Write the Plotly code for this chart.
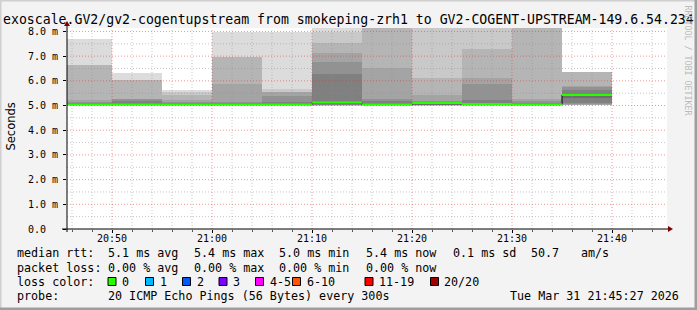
import plotly.graph_objects as go
from datetime import datetime, timedelta

# ---------------- data ----------------
DAY = "2026-03-31"
bar_start = ["20:45", "20:50", "20:55", "21:00", "21:05", "21:10",
             "21:15", "21:20", "21:25", "21:30", "21:35"]
median_ms = [5.05, 5.05, 5.05, 5.05, 5.05, 5.12, 5.05, 5.10, 5.06, 5.05, 5.43]

# nested smoke layers (outer -> inner), upper bounds in ms
smoke_hi_1 = [7.70, 6.31, 5.61, 7.96, 7.99, 8.60, 8.80, 8.80, 8.80, 8.90, 6.34]
smoke_hi_2 = [6.65, 6.03, 5.53, 6.95, 5.68, 7.96, 8.70, 8.70, 8.70, 8.80, 6.34]
smoke_hi_3 = [6.64, 6.03, 5.43, 6.95, 5.54, 7.55, 8.60, 6.11, 7.30, 8.70, 6.34]
smoke_hi_4 = [5.23, 5.26, 5.23, 5.89, 5.54, 7.12, 6.51, 5.41, 6.11, 5.27, 5.80]
smoke_hi_5 = [5.15, 5.25, 5.14, 5.16, 5.40, 6.78, 5.26, 5.18, 5.89, 5.18, 5.75]
smoke_hi_6 = [5.11, 5.18, 5.11, 5.11, 5.14, 6.28, 5.18, 5.14, 5.22, 5.12, 5.61]
smoke_hi_7 = [5.09, 5.10, 5.08, 5.09, 5.10, 5.15, 5.10, 5.12, 5.12, 5.09, 5.47]
# lower bounds in ms
smoke_lo_1 = [5.00, 5.00, 5.00, 5.00, 5.00, 5.00, 5.00, 5.00, 5.00, 5.00, 5.01]
smoke_lo_2 = [5.00, 5.00, 5.00, 5.00, 5.00, 5.00, 5.00, 5.00, 5.00, 5.00, 5.01]
smoke_lo_3 = [5.01, 5.01, 5.01, 5.01, 5.01, 5.01, 5.01, 5.01, 5.01, 5.01, 5.02]
smoke_lo_4 = [5.01, 5.01, 5.01, 5.01, 5.01, 5.02, 5.01, 5.01, 5.01, 5.01, 5.03]
smoke_lo_5 = [5.02, 5.02, 5.02, 5.02, 5.02, 5.03, 5.02, 5.02, 5.02, 5.02, 5.08]
smoke_lo_6 = [5.02, 5.02, 5.02, 5.02, 5.02, 5.04, 5.02, 5.03, 5.02, 5.02, 5.12]
smoke_lo_7 = [5.03, 5.03, 5.03, 5.03, 5.03, 5.06, 5.03, 5.05, 5.03, 5.03, 5.30]

y_tick_vals = [0, 1, 2, 3, 4, 5, 6, 7, 8]
y_tick_text = ["0.0\u00a0\u00a0", "1.0 m", "2.0 m", "3.0 m", "4.0 m",
               "5.0 m", "6.0 m", "7.0 m", "8.0 m"]

loss_labels = ["0", "1", "2", "3", "4-5", "6-10", "11-19", "20/20"]
loss_colors = ["#26ff00", "#00b8ff", "#0059ff", "#7e00ff",
               "#ff00ff", "#ff5500", "#ff0000", "#a00000"]

title_text = "exoscale.GV2/gv2-cogentupstream from smokeping-zrh1 to GV2-COGENT-UPSTREAM-149.6.54.234"
rtt_items = ["5.1 ms avg", "5.4 ms max", "5.0 ms min", "5.4 ms now", "0.1 ms sd", "50.7", "am/s"]
loss_items = ["0.00 % avg", "0.00 % max", "0.00 % min", "0.00 % now"]
probe_text = "20 ICMP Echo Pings (56 Bytes) every 300s"
stamp_text = "Tue Mar 31 21:45:27 2026"
x_start = "2026-03-31 20:45:30"
x_end = "2026-03-31 21:45:30"

# ---------------- layout / style ----------------
W, H = 697, 310
PL, PR, PT, PB = 67, 667, 28, 229
Y_MAX = 8.14
STEP_MS = 300000
MONO = "DejaVu Sans Mono"
layer_colors = ["#dcdcdc", "#c9c9c9", "#b5b5b5", "#a4a4a4", "#929292", "#808080", "#6c6c6c"]
stat_x = [107, 193, 278, 365, 451.5, 530, 580]
loss_box_x = [108, 145.5, 182.5, 219, 255.5, 292.5, 365, 430.5]


def fx(px):
    return (px - PL) / (PR - PL)


def fy(py):
    return (PB - py) / (PB - PT)


t_start = [datetime.fromisoformat(f"{DAY} {s}") for s in bar_start]
t_end = [t + timedelta(milliseconds=STEP_MS) for t in t_start]

fig = go.Figure()

his = [smoke_hi_1, smoke_hi_2, smoke_hi_3, smoke_hi_4, smoke_hi_5, smoke_hi_6, smoke_hi_7]
los = [smoke_lo_1, smoke_lo_2, smoke_lo_3, smoke_lo_4, smoke_lo_5, smoke_lo_6, smoke_lo_7]
for hi, lo, col in zip(his, los, layer_colors):
    fig.add_trace(go.Bar(
        x=t_start, y=[h - l for h, l in zip(hi, lo)], base=lo,
        width=[STEP_MS] * len(t_start), offset=0,
        marker=dict(color=col, line=dict(width=0)),
        hoverinfo="skip", showlegend=False))

# black median step underneath
fig.add_trace(go.Scatter(
    x=t_start + [t_end[-1]], y=median_ms + [median_ms[-1]],
    mode="lines", line=dict(color="#000000", width=1, shape="hv"),
    hoverinfo="skip", showlegend=False))

# green median segments
gx, gy = [], []
for a, b, m in zip(t_start, t_end, median_ms):
    gx += [a, b, None]
    gy += [m, m, None]
fig.add_trace(go.Scatter(
    x=gx, y=gy, mode="lines", line=dict(color=loss_colors[0], width=2),
    hoverinfo="skip", showlegend=False))

shapes = []
# grid (drawn above the smoke, like rrdtool)
v = 0.5
while v <= Y_MAX:
    major = abs(v - round(v)) < 1e-9
    shapes.append(dict(type="line", xref="paper", yref="y", x0=0, x1=1, y0=v, y1=v,
                       layer="above",
                       line=dict(color="rgba(222,48,48,0.5)" if major else "rgba(143,143,143,0.5)",
                                 width=1, dash="1px,2px")))
    v += 0.5
t0 = datetime.fromisoformat(x_start)
t1 = datetime.fromisoformat(x_end)
g = datetime.fromisoformat(f"{DAY} 20:46")
while g < t1:
    if g > t0:
        major = g.minute % 10 == 0
        shapes.append(dict(type="line", xref="x", yref="paper", x0=g, x1=g, y0=0, y1=1,
                           layer="above",
                           line=dict(color="rgba(222,48,48,0.5)" if major else "rgba(143,143,143,0.5)",
                                     width=1, dash="1px,2px")))
    g += timedelta(minutes=2)

# axes with arrows
shapes.append(dict(type="line", xref="paper", yref="paper", x0=fx(62), x1=fx(668),
                   y0=fy(PB), y1=fy(PB), layer="above", line=dict(color="#000000", width=1)))
shapes.append(dict(type="line", xref="paper", yref="paper", x0=fx(PL), x1=fx(PL),
                   y0=fy(232), y1=fy(26), layer="above", line=dict(color="#000000", width=1)))
shapes.append(dict(type="path", xref="paper", yref="paper", layer="above",
                   path=f"M {fx(668)},{fy(PB - 3)} L {fx(673)},{fy(PB)} L {fx(668)},{fy(PB + 3)} Z",
                   fillcolor="#7f0000", line=dict(width=0)))
shapes.append(dict(type="path", xref="paper", yref="paper", layer="above",
                   path=f"M {fx(PL - 3)},{fy(26)} L {fx(PL)},{fy(21)} L {fx(PL + 3)},{fy(26)} Z",
                   fillcolor="#7f0000", line=dict(width=0)))

# frame (3D border)
shapes.append(dict(type="rect", xref="paper", yref="paper", x0=fx(0), x1=fx(1.5),
                   y0=fy(0), y1=fy(H), fillcolor="#cfcfcf", line=dict(width=0), layer="above"))
shapes.append(dict(type="rect", xref="paper", yref="paper", x0=fx(0), x1=fx(W),
                   y0=fy(0), y1=fy(1.5), fillcolor="#cfcfcf", line=dict(width=0), layer="above"))
shapes.append(dict(type="rect", xref="paper", yref="paper", x0=fx(W - 2.5), x1=fx(W),
                   y0=fy(0), y1=fy(H), fillcolor="#9e9e9e", line=dict(width=0), layer="above"))
shapes.append(dict(type="rect", xref="paper", yref="paper", x0=fx(0), x1=fx(W),
                   y0=fy(H - 2.5), y1=fy(H), fillcolor="#9e9e9e", line=dict(width=0), layer="above"))

annotations = []


def txt(text, x, y, size=11.7, anchor="left", family=MONO, color="#000000", angle=0):
    annotations.append(dict(text=text, x=fx(x), y=fy(y), xref="paper", yref="paper",
                            xanchor=anchor, yanchor="middle", showarrow=False,
                            textangle=angle, borderpad=0,
                            font=dict(family=family, size=size, color=color)))


txt(title_text, 348.5, 19.5, size=13.2, anchor="center")
txt("Seconds", 10.5, 127, size=11.5, anchor="center", family="DejaVu Sans", angle=-90)
txt("RRDTOOL / TOBI OETIKER", 687.5, 60, size=8.3, anchor="center", color="#bbbbbb", angle=90)

LINE_Y = [253, 267.5, 281.5, 296]
txt("median rtt:", 16, LINE_Y[0])
for s, x in zip(rtt_items, stat_x):
    txt(s, x, LINE_Y[0])
txt("packet loss:", 16, LINE_Y[1])
for s, x in zip(loss_items, stat_x):
    txt(s, x, LINE_Y[1])
txt("loss color:", 16, LINE_Y[2])
for lab, col, bx in zip(loss_labels, loss_colors, loss_box_x):
    shapes.append(dict(type="rect", xref="paper", yref="paper",
                       x0=fx(bx), x1=fx(bx + 8), y0=fy(277.5), y1=fy(285.5),
                       fillcolor=col, line=dict(color="#000000", width=1)))
    txt(lab, bx + 13, LINE_Y[2])
txt("probe:", 16, LINE_Y[3])
txt(probe_text, stat_x[0], LINE_Y[3])
txt(stamp_text, 680, LINE_Y[3], anchor="right")

fig.update_layout(
    width=W, height=H,
    margin=dict(l=PL, r=W - PR, t=PT, b=H - PB, pad=0),
    paper_bgcolor="#f3f3f3", plot_bgcolor="#ffffff",
    barmode="overlay", bargap=0,
    showlegend=False,
    shapes=shapes, annotations=annotations,
    xaxis=dict(type="date", range=[x_start, x_end], showgrid=False, zeroline=False,
               showline=False, tickformat="%H:%M", dtick=600000,
               tick0=f"{DAY} 20:50", ticks="outside", ticklen=3, tickcolor="#000000",
               tickfont=dict(family=MONO, size=10, color="#000000"),
               ticklabelstandoff=-3,
               minor=dict(dtick=120000, ticks="outside", ticklen=2, tickcolor="#555555",
                          showgrid=False)),
    yaxis=dict(range=[0, Y_MAX], showgrid=False, zeroline=False, showline=False,
               tickvals=y_tick_vals, ticktext=y_tick_text, ticks="outside",
               ticklen=3, tickcolor="#000000",
               tickfont=dict(family=MONO, size=10, color="#000000"),
               ticklabelstandoff=3),
)

fig.write_html("out.html")
